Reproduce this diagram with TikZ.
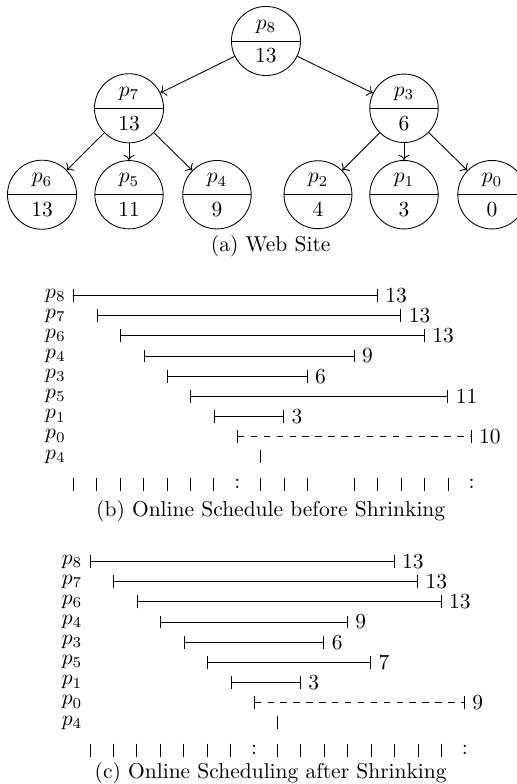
\documentclass[tikz,border=0pt]{standalone}
\usetikzlibrary{arrows.meta,shapes.multipart}

\begin{document}
\begin{tikzpicture}[
  proc/.style={circle split, draw, minimum size=1cm},
  span/.style={arrows={Bar[width=6pt]-Bar[width=6pt]}},
  rowlab/.style={left},
  durlab/.style={right}
]
\useasboundingbox (0,0) rectangle (8.451,-12.816);

% (a) web site tree
\node[proc] (p8) at (4.348,-0.670) {$p_8$ \nodepart{lower} 13};
\node[proc] (p7) at (2.109,-1.770) {$p_7$ \nodepart{lower} 13};
\node[proc] (p3) at (6.604,-1.770) {$p_3$ \nodepart{lower} 6};
\node[proc] (p6) at (0.687,-3.183) {$p_6$ \nodepart{lower} 13};
\node[proc] (p5) at (2.109,-3.183) {$p_5$ \nodepart{lower} 11};
\node[proc] (p4) at (3.547,-3.183) {$p_4$ \nodepart{lower} 9};
\node[proc] (p2) at (5.198,-3.183) {$p_2$ \nodepart{lower} 4};
\node[proc] (p1) at (6.604,-3.183) {$p_1$ \nodepart{lower} 3};
\node[proc] (p0) at (8.043,-3.183) {$p_0$ \nodepart{lower} 0};
\draw[->] (p8) -- (p7);
\draw[->] (p8) -- (p3);
\draw[->] (p7) -- (p6);
\draw[->] (p7) -- (p5);
\draw[->] (p7) -- (p4);
\draw[->] (p3) -- (p2);
\draw[->] (p3) -- (p1);
\draw[->] (p3) -- (p0);
\node (capa) at (4.425,-4.020) {(a) Web Site};

% (b) schedule before shrinking
\begin{scope}[shift={(1.198,-4.834)}, x=0.383cm, y=-0.3286cm]
  \node[rowlab] (b8) at (0,0) {$p_8$};
  \node[rowlab] (b7) at (0,1) {$p_7$};
  \node[rowlab] (b6) at (0,2) {$p_6$};
  \node[rowlab] (b4) at (0,3) {$p_4$};
  \node[rowlab] (b3) at (0,4) {$p_3$};
  \node[rowlab] (b5) at (0,5) {$p_5$};
  \node[rowlab] (b1) at (0,6) {$p_1$};
  \node[rowlab] (b0) at (0,7) {$p_0$};
  \node[rowlab] (b4x) at (0,8) {$p_4$};
  \draw[span] (0,0) -- (13,0) node[durlab] (bd8) {13};
  \draw[span] (1,1) -- (14,1) node[durlab] (bd7) {13};
  \draw[span] (2,2) -- (15,2) node[durlab] (bd6) {13};
  \draw[span] (3,3) -- (12,3) node[durlab] (bd4) {9};
  \draw[span] (4,4) -- (10,4) node[durlab] (bd3) {6};
  \draw[span] (5,5) -- (16,5) node[durlab] (bd5) {11};
  \draw[span] (6,6) -- (9,6) node[durlab] (bd1) {3};
  \draw[span, dashed] (7,7) -- (17,7) node[durlab] (bd0) {10};
  \draw (8,8) ++(0,3pt) -- ++(0,-6pt);
  \foreach \i in {0,1,2,3,4,5,6,8,9,10,12,13,14,15,16}
    \draw (\i,9.37) ++(0,3pt) -- ++(0,-6pt);
  \node (bdots1) at (7,9.37) {:};
  \node (bdots2) at (17,9.37) {:};
\end{scope}
\node (capb) at (4.425,-8.353) {(b) Online Schedule before Shrinking};

% (c) schedule after shrinking
\begin{scope}[shift={(1.471,-9.182)}, x=0.383cm, y=-0.3286cm]
  \node[rowlab] (c8) at (0,0) {$p_8$};
  \node[rowlab] (c7) at (0,1) {$p_7$};
  \node[rowlab] (c6) at (0,2) {$p_6$};
  \node[rowlab] (c4) at (0,3) {$p_4$};
  \node[rowlab] (c3) at (0,4) {$p_3$};
  \node[rowlab] (c5) at (0,5) {$p_5$};
  \node[rowlab] (c1) at (0,6) {$p_1$};
  \node[rowlab] (c0) at (0,7) {$p_0$};
  \node[rowlab] (c4x) at (0,8) {$p_4$};
  \draw[span] (0,0) -- (13,0) node[durlab] (cd8) {13};
  \draw[span] (1,1) -- (14,1) node[durlab] (cd7) {13};
  \draw[span] (2,2) -- (15,2) node[durlab] (cd6) {13};
  \draw[span] (3,3) -- (11,3) node[durlab] (cd4) {9};
  \draw[span] (4,4) -- (10,4) node[durlab] (cd3) {6};
  \draw[span] (5,5) -- (12,5) node[durlab] (cd5) {7};
  \draw[span] (6,6) -- (9,6) node[durlab] (cd1) {3};
  \draw[span, dashed] (7,7) -- (16,7) node[durlab] (cd0) {9};
  \draw (8,8) ++(0,3pt) -- ++(0,-6pt);
  \foreach \i in {0,1,2,3,4,5,6,8,9,10,11,12,13,14,15}
    \draw (\i,9.37) ++(0,3pt) -- ++(0,-6pt);
  \node (cdots1) at (7,9.37) {:};
  \node (cdots2) at (16,9.37) {:};
\end{scope}
\node (capc) at (4.425,-12.637) {(c) Online Scheduling after Shrinking};
\end{tikzpicture}
\end{document}
